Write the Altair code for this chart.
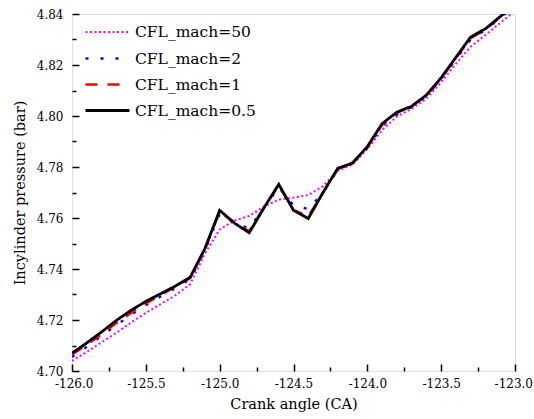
import altair as alt
import pandas as pd

crank = [-126.0, -125.9, -125.8, -125.7, -125.6, -125.5, -125.4, -125.3, -125.2, -125.1,
         -125.0, -124.9, -124.8, -124.7, -124.6, -124.5, -124.4, -124.3, -124.2, -124.1,
         -124.0, -123.9, -123.8, -123.7, -123.6, -123.5, -123.4, -123.3, -123.2, -123.1, -123.0]

p_50 = [4.7040, 4.7075, 4.7112, 4.7150, 4.7190, 4.7228, 4.7262, 4.7297, 4.7340, 4.7460,
        4.7555, 4.7590, 4.7608, 4.7645, 4.7672, 4.7680, 4.7690, 4.7725, 4.7785, 4.7810,
        4.7870, 4.7945, 4.7998, 4.8028, 4.8068, 4.8132, 4.8205, 4.8272, 4.8318, 4.8365, 4.8413]

p_2 = [4.7055, 4.7095, 4.7137, 4.7180, 4.7220, 4.7258, 4.7292, 4.7325, 4.7360, 4.7472,
       4.7615, 4.7580, 4.7560, 4.7640, 4.7720, 4.7650, 4.7635, 4.7700, 4.7790, 4.7815,
       4.7875, 4.7960, 4.8005, 4.8035, 4.8078, 4.8145, 4.8222, 4.8300, 4.8337, 4.8385, 4.8430]

p_1 = [4.7065, 4.7103, 4.7145, 4.7188, 4.7228, 4.7265, 4.7298, 4.7330, 4.7365, 4.7478,
       4.7625, 4.7582, 4.7548, 4.7640, 4.7728, 4.7632, 4.7605, 4.7700, 4.7792, 4.7818,
       4.7878, 4.7965, 4.8012, 4.8040, 4.8080, 4.8148, 4.8228, 4.8305, 4.8340, 4.8388, 4.8432]

p_05 = [4.7070, 4.7110, 4.7153, 4.7198, 4.7238, 4.7273, 4.7303, 4.7333, 4.7367, 4.7480,
        4.7630, 4.7580, 4.7542, 4.7640, 4.7732, 4.7630, 4.7598, 4.7700, 4.7795, 4.7815,
        4.7880, 4.7970, 4.8015, 4.8038, 4.8082, 4.8150, 4.8230, 4.8310, 4.8342, 4.8390, 4.8435]

series_names = ["CFL_mach=50", "CFL_mach=2", "CFL_mach=1", "CFL_mach=0.5"]
series_colors = ["#ff00ff", "#0000ff", "#ff0000", "#000000"]
series_dash = [[2, 2.5], [3, 12], [12, 10], [1, 0]]
series_width = [2.0, 2.8, 2.6, 2.6]

x_major = [-126.0, -125.5, -125.0, -124.5, -124.0, -123.5, -123.0]
x_minor = [-125.75, -125.25, -124.75, -124.25, -123.75, -123.25]
y_major = [4.70, 4.72, 4.74, 4.76, 4.78, 4.80, 4.82, 4.84]
y_minor = [4.71, 4.73, 4.75, 4.77, 4.79, 4.81, 4.83]

rows = []
for name, vals in zip(series_names, [p_50, p_2, p_1, p_05]):
    for i, (x, y) in enumerate(zip(crank, vals)):
        rows.append({"series": name, "crank": x, "p": y, "idx": i})
df = pd.DataFrame(rows)

FONT = "DejaVu Serif"
W, H = 443, 357

xscale = alt.Scale(domain=[-126, -123], nice=False, zero=False)
yscale = alt.Scale(domain=[4.70, 4.84], nice=False, zero=False)

color_enc = alt.Color("series:N", scale=alt.Scale(domain=series_names, range=series_colors),
                      legend=alt.Legend(title=None, orient="none", legendX=24, legendY=7,
                                        symbolType="M-2.2,0H2.2", symbolSize=400,
                                        labelFont=FONT, labelFontSize=15.5, labelColor="black",
                                        labelOffset=16, rowPadding=6, padding=0,
                                        symbolStrokeWidth=2.4))
dash_enc = alt.StrokeDash("series:N", scale=alt.Scale(domain=series_names, range=series_dash))
width_enc = alt.StrokeWidth("series:N", scale=alt.Scale(domain=series_names, range=series_width))

hyphen_x = "replace(format(datum.value, '.1f'), '\u2212', '-')"

main_x_axis = alt.Axis(values=x_major, labelExpr=hyphen_x, ticks=False, domain=False, grid=False,
                       labelFont=FONT, labelFontSize=12, labelColor="black", labelPadding=7,
                       labelFlush=True, labelFlushOffset=17.5,
                       title="Crank angle (CA)", titleFont=FONT, titleFontSize=14.5,
                       titleFontWeight="normal", titleColor="black", titlePadding=8,
                       orient="bottom", labelOverlap=False)
main_y_axis = alt.Axis(values=y_major, format=".2f", ticks=False, domain=False, grid=False,
                       labelFont=FONT, labelFontSize=12, labelColor="black", labelPadding=9,
                       title="Incylinder pressure (bar)", titleFont=FONT, titleFontSize=14.5,
                       titleFontWeight="normal", titleColor="black", titlePadding=9,
                       orient="left", labelFlush=False, labelOverlap=False)

layers = []
for k, name in enumerate(series_names):
    xa = main_x_axis if k == 0 else None
    ya = main_y_axis if k == 0 else None
    layer = alt.Chart(df).transform_filter(alt.datum.series == name).mark_line(clip=True).encode(
        x=alt.X("crank:Q", scale=xscale, axis=xa),
        y=alt.Y("p:Q", scale=yscale, axis=ya),
        color=color_enc,
        strokeDash=dash_enc,
        strokeWidth=width_enc,
        order="idx:Q",
    )
    layers.append(layer)


def tick_layer(xvals, yvals, size):
    return alt.Chart(df).mark_line(opacity=0).encode(
        x=alt.X("crank:Q", scale=xscale,
                axis=alt.Axis(values=xvals, orient="bottom", tickSize=size, offset=-size,
                              labels=False, domain=False, grid=False, title=None,
                              tickColor="black", tickWidth=1.5)),
        y=alt.Y("p:Q", scale=yscale,
                axis=alt.Axis(values=yvals, orient="left", tickSize=size, offset=-size,
                              labels=False, domain=False, grid=False, title=None,
                              tickColor="black", tickWidth=1.5)),
        detail="series:N",
    )


layers.append(tick_layer(x_major, y_major, 7))
layers.append(tick_layer(x_minor, y_minor, 4))

chart = alt.layer(*layers).resolve_axis(x="independent", y="independent").properties(
    width=W, height=H,
    autosize=alt.AutoSizeParams(type="none"),
    padding={"left": 72, "top": 14, "right": 19, "bottom": 48},
    background="white",
).configure_view(stroke="#111111", strokeWidth=1.6).configure(font=FONT)

chart.save("out.html", embed_options={"renderer": "svg", "actions": False})
